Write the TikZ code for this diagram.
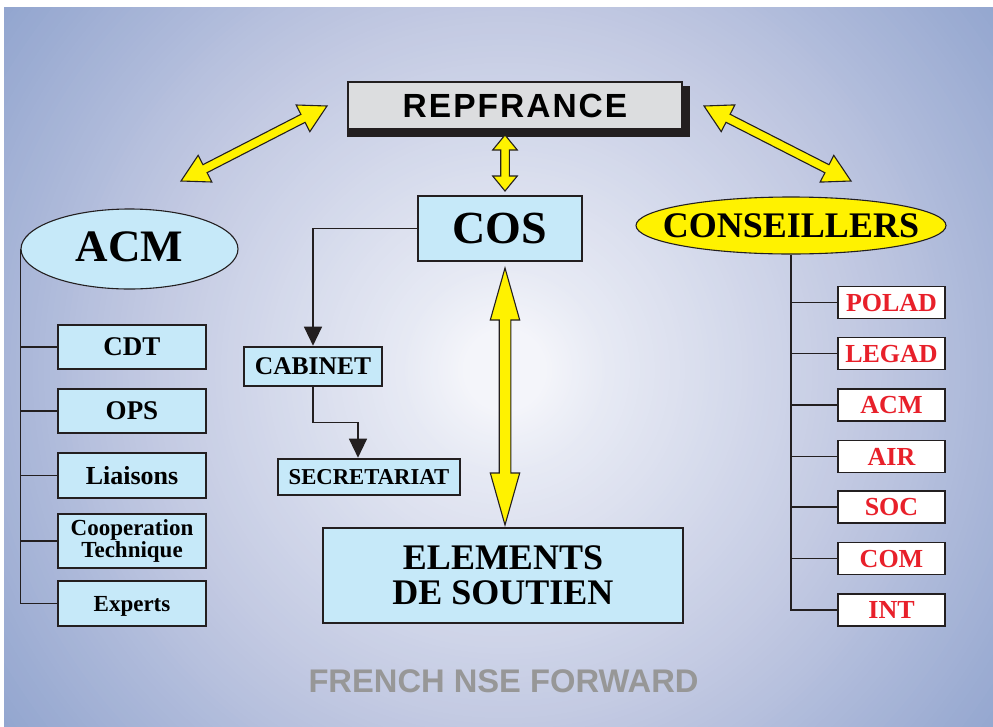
\documentclass[tikz,border=0pt]{standalone}
\usepackage{fontspec}
\setmainfont{Liberation Serif}
\newfontfamily\helv{Liberation Sans}
\usetikzlibrary{shapes.geometric,arrows.meta,calc,backgrounds}

\definecolor{bgA}{HTML}{F4F5FA}
\definecolor{bgB}{HTML}{E7EAF4}
\definecolor{bgC}{HTML}{D6DBEC}
\definecolor{bgD}{HTML}{C2C9E2}
\definecolor{bgE}{HTML}{A9B6D8}
\definecolor{bgF}{HTML}{93A6CF}
\definecolor{boxblue}{HTML}{C6E9F9}
\definecolor{ink}{HTML}{231F20}
\definecolor{arrowyellow}{HTML}{FFF200}
\definecolor{advred}{HTML}{E8202A}
\definecolor{capgray}{HTML}{979797}
\definecolor{repgray}{HTML}{DCDDDF}

% bold text at a given size (pt)
\newcommand\fsz[1]{\fontsize{#1}{#1}\selectfont\bfseries}

% one band of the backdrop glow: rings from radius #2 (colour #4) in to radius #1 (colour #3)
\newcommand\glowband[4]{%
  \foreach \i in {0,...,24}{%
    \pgfmathsetmacro\rr{#2-(#2-#1)*\i/24}%
    \pgfmathtruncatemacro\pp{100*(\rr-#1)/(#2-#1)}%
    \fill[#4!\pp!#3] (glowc) circle[radius=\rr pt];}}

% fat double-headed arrow between two points:
% #1,#2 ends, #3 shaft half-width, #4 head length, #5 head half-width
\newcommand\fatarrow[5]{%
  \filldraw[fatarrowstyle] (#1)
    -- ($($(#1)!#4!(#2)$)!#5!90:(#2)$)
    -- ($($(#1)!#4!(#2)$)!#3!90:(#2)$)
    -- ($($(#2)!#4!(#1)$)!#3!-90:(#1)$)
    -- ($($(#2)!#4!(#1)$)!#5!-90:(#1)$)
    -- (#2)
    -- ($($(#2)!#4!(#1)$)!#5!90:(#1)$)
    -- ($($(#2)!#4!(#1)$)!#3!90:(#1)$)
    -- ($($(#1)!#4!(#2)$)!#3!-90:(#2)$)
    -- ($($(#1)!#4!(#2)$)!#5!-90:(#2)$)
    -- cycle;}

\tikzset{
  fatarrowstyle/.style={fill=arrowyellow, draw=ink, line width=1.1pt, line join=miter},
  cap/.code={\pgfmathsetlengthmacro\capht{0.662*#1pt}%
    \tikzset{font=\fsz{#1}, text height=\capht, text depth=0pt}},
  repbox/.style={draw=ink, fill=repgray, line width=1.2pt, inner sep=0pt,
    minimum width=334pt, minimum height=47pt},
  mainbox/.style={draw=ink, fill=boxblue, line width=2.6pt, inner sep=0pt},
  acmitem/.style={draw=ink, fill=boxblue, line width=1.4pt, inner sep=0pt,
    minimum width=148pt, minimum height=44pt},
  advbox/.style={draw=ink, fill=white, line width=1.5pt, inner sep=0pt,
    minimum width=107pt, minimum height=32pt, text=advred, cap=26},
  branch/.style={draw=ink, line width=1.3pt},
  tree/.style={draw=ink, line width=1.2pt, -{Triangle[width=18pt,length=19pt]}},
}

\begin{document}
\begin{tikzpicture}[x=1pt,y=-1pt]
\useasboundingbox (0,0) rectangle (993,726);

% backdrop with a soft central glow
\begin{scope}[on background layer]
  \fill[white] (0,0) rectangle (993,726);
  \begin{scope}
    \clip (4,7) rectangle (993,726);
    \fill[bgF] (4,7) rectangle (993,726);
    \coordinate (glowc) at (505,370);
    \glowband{495}{615}{bgE}{bgF}
    \glowband{360}{495}{bgD}{bgE}
    \glowband{220}{360}{bgC}{bgD}
    \glowband{100}{220}{bgB}{bgC}
    \glowband{40}{100}{bgA}{bgB}
  \end{scope}
\end{scope}

% top of the organisation
\node[repbox, font=\helv\fsz{33.5}\addfontfeature{LetterSpace=6},
      text height=24pt, text depth=0pt] (rep) at (515,105.5) {REPFRANCE};
\begin{scope}[on background layer]
  \fill[ink] ($(rep.south west)+(0,7)$) rectangle ($(rep.north east)+(7,5)$);
\end{scope}

% central column
\node[mainbox, minimum width=164pt, minimum height=65pt, cap=46] (cos) at (500,228.5) {COS};
\node[mainbox, minimum width=138pt, minimum height=39pt, cap=25.5] (cab) at (313,366.5) {CABINET};
\node[mainbox, minimum width=182pt, minimum height=36pt, cap=22.7] (sec) at (369,477) {SECRETARIAT};
\node[mainbox, minimum width=360pt, minimum height=95pt, align=center,
      font=\fontsize{36}{35}\selectfont\bfseries] (elem) at (503,575.5) {ELEMENTS\\DE SOUTIEN};

\draw[tree] (cos.west) -| (cab.north);
\draw[tree] (cab.south) -- ++(0,35) -| ([xshift=-11pt]sec.north);

% left branch
\node[ellipse, draw=ink, fill=boxblue, line width=1.1pt, inner sep=0pt,
      minimum width=217pt, minimum height=80pt, cap=45, text depth=4.6pt] (acm) at (129.5,249) {ACM};
\node[acmitem, cap=27] (cdt) at (132,347) {CDT};
\node[acmitem, cap=27] (ops) at (132,411) {OPS};
\node[acmitem, minimum height=45pt, cap=26] (lia) at (132,475.5) {Liaisons};
\node[acmitem, minimum height=54pt, align=center,
      font=\fontsize{23}{18.5}\selectfont\bfseries] (coop) at (132,541) {Cooperation\\Technique};
\node[acmitem, minimum height=45pt, cap=23] (exp) at (132,603.5) {Experts};

\draw[branch] (acm.west) -- (acm.west |- exp.west) -- (exp.west);
\foreach \n in {cdt,ops,lia,coop}
  \draw[branch] (acm.west |- \n.west) -- (\n.west);

% right branch
\node[ellipse, draw=ink, fill=arrowyellow, line width=1.1pt, inner ysep=0pt, inner xsep=-25pt,
      minimum width=310pt, minimum height=57pt, cap=36] (cons) at (791,225.5) {CONSEILLERS};
\node[advbox] (polad) at (891.5,302.5) {POLAD};
\node[advbox] (legad) at (891.5,353.5) {LEGAD};
\node[advbox] (acmr)  at (891.5,405)   {ACM};
\node[advbox] (air)   at (891.5,456.5) {AIR};
\node[advbox] (soc)   at (891.5,507)   {SOC};
\node[advbox] (com)   at (891.5,558.5) {COM};
\node[advbox] (int)   at (891.5,610)   {INT};

\draw[branch] (cons.south) -- (cons.south |- int.west) -- (int.west);
\foreach \n in {polad,legad,acmr,air,soc,com}
  \draw[branch] (cons.south |- \n.west) -- (\n.west);

% yellow double arrows
\coordinate (dl1) at (181,181);
\coordinate (dl2) at (327,106);
\coordinate (dr1) at (704,106);
\coordinate (dr2) at (851,181);
\coordinate (vs1) at (505,135);
\coordinate (vs2) at (505,191);
\coordinate (vb1) at (505,268);
\coordinate (vb2) at (505,525);
\fatarrow{dl1}{dl2}{4.5pt}{27pt}{15pt}
\fatarrow{dr1}{dr2}{4.5pt}{27pt}{15pt}
\fatarrow{vs1}{vs2}{4.3pt}{15pt}{12.3pt}
\fatarrow{vb1}{vb2}{5.8pt}{52pt}{14.7pt}

% caption
\node[font=\helv\fsz{32.7}, text=capgray, text height=23.4pt, text depth=0pt] (title) at (503.5,681) {FRENCH NSE FORWARD};
\end{tikzpicture}
\end{document}
